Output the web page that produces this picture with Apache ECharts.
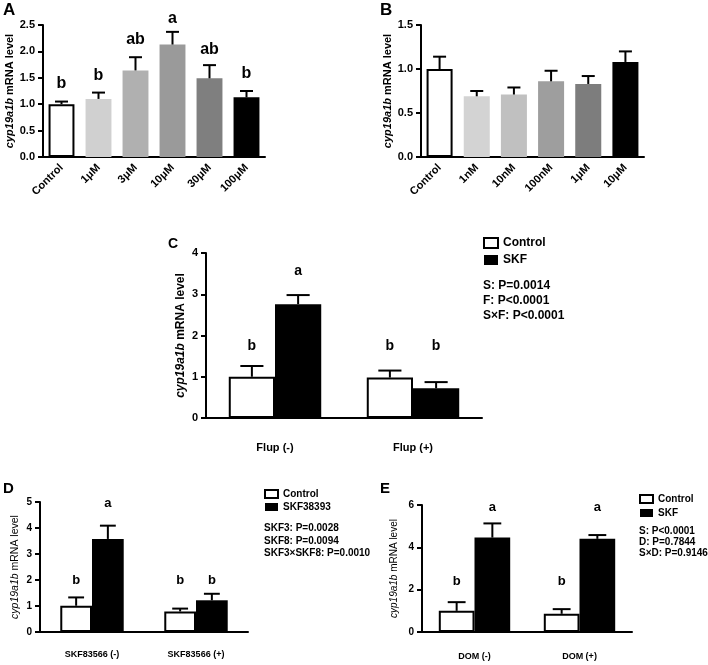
<!DOCTYPE html>
<html><head><meta charset="utf-8">
<script src="https://cdn.jsdelivr.net/npm/echarts@6/dist/echarts.min.js"></script>
<style>html,body{margin:0;padding:0;background:#fff}#c{width:708px;height:665px}</style>
</head><body><div id="c"></div>
<script>
// ---------- Panel A ----------
const catsA = ['Control','1μM','3μM','10μM','30μM','100μM'];
const valsA = [1.00,1.10,1.64,2.13,1.49,1.13];
const errA  = [0.05,0.12,0.25,0.24,0.25,0.12];
const lettersA = ['b','b','ab','a','ab','b'];
const letterPosA = [1.30,1.46,2.14,2.54,1.95,1.49];
const ticksA = [0,2.5,0.5];
// ---------- Panel B ----------
const catsB = ['Control','1nM','10nM','100nM','1μM','10μM'];
const valsB = [1.00,0.69,0.71,0.86,0.83,1.08];
const errB  = [0.14,0.06,0.08,0.12,0.09,0.12];
const ticksB = [0,1.5,0.5];
// ---------- Panel C ----------
const groupsC = ['Flup (-)','Flup (+)'];
const ctrlC = [1.00,0.98];  const ctrlErrC = [0.26,0.17];
const skfC  = [2.76,0.72];  const skfErrC  = [0.22,0.15];
const ctrlLettersC = ['b','b']; const skfLettersC = ['a','b'];
const ctrlLetterPosC = [1.65,1.65]; const skfLetterPosC = [3.47,1.65];
const ticksC = [0,4,1];
const legendC = ['Control','SKF'];
const statsC = ['S: P=0.0014','F: P<0.0001','S×F: P<0.0001'];
// ---------- Panel D ----------
const groupsD = ['SKF83566 (-)','SKF83566 (+)'];
const ctrlD = [1.01,0.79];  const ctrlErrD = [0.32,0.11];
const skfD  = [3.58,1.22];  const skfErrD  = [0.51,0.25];
const ctrlLettersD = ['b','b']; const skfLettersD = ['a','b'];
const ctrlLetterPosD = [1.85,1.85]; const skfLetterPosD = [4.79,1.85];
const ticksD = [0,5,1];
const legendD = ['Control','SKF38393'];
const statsD = ['SKF3: P=0.0028','SKF8: P=0.0094','SKF3×SKF8: P=0.0010'];
// ---------- Panel E ----------
const groupsE = ['DOM (-)','DOM (+)'];
const ctrlE = [1.00,0.86];  const ctrlErrE = [0.41,0.22];
const skfE  = [4.46,4.40];  const skfErrE  = [0.67,0.18];
const ctrlLettersE = ['b','b']; const skfLettersE = ['a','a'];
const ctrlLetterPosE = [2.23,2.23]; const skfLetterPosE = [5.71,5.71];
const ticksE = [0,6,2];
const legendE = ['Control','SKF'];
const statsE = ['S: P<0.0001','D: P=0.7844','S×D: P=0.9146'];
const yName = '{i|cyp19a1b} mRNA level';

const FF = '"Liberation Sans", Arial, sans-serif';
const colorsA = ['#ffffff','#d0d0d0','#b0b0b0','#9a9a9a','#7f7f7f','#000000'];
const colorsB = ['#ffffff','#d3d3d3','#c0c0c0','#9e9e9e','#7d7d7d','#000000'];

const chart = echarts.init(document.getElementById('c'), null, {renderer:'canvas'});

const grids = [
  {left:43, top:25, width:222, height:132},
  {left:421, top:25, width:223, height:132},
  {left:206, top:253, width:276, height:165},
  {left:40, top:502, width:208, height:130},
  {left:422, top:505, width:210, height:127}
];

function xAx(g, data, lab) {
  return {type:'category', gridIndex:g, data:data, boundaryGap:true,
    axisLine:{lineStyle:{color:'#000', width:2}},
    axisTick:{alignWithLabel:true, length:5, lineStyle:{color:'#000', width:2}},
    axisLabel:Object.assign({color:'#000', fontWeight:'bold', fontFamily:FF, interval:0}, lab)};
}
function yAx(g, t, fmt, fs, nameFs, nameW, gap) {
  return {type:'value', gridIndex:g, min:t[0], max:t[1], interval:t[2],
    axisLine:{show:true, lineStyle:{color:'#000', width:2}},
    axisTick:{show:true, length:5, lineStyle:{color:'#000', width:2}},
    splitLine:{show:false},
    axisLabel:{color:'#000', fontWeight:'bold', fontSize:fs, fontFamily:FF, margin:8, formatter:fmt},
    name:yName, nameLocation:'middle', nameGap:gap,
    nameTextStyle:{color:'#000', fontSize:nameFs, fontWeight:nameW, fontFamily:FF,
      rich:{i:{fontStyle:'italic', fontSize:nameFs, fontWeight:nameW, fontFamily:FF, color:'#000'}}}};
}

function errSeries(ax, vals, errs, letters, lpos, nSer, serIdx, gap, lsize) {
  return {type:'custom', xAxisIndex:ax, yAxisIndex:ax, z:5, silent:true,
    data: vals.map((v,i)=>[i, v, errs[i], lpos ? lpos[i] : 0]),
    renderItem: function(params, api) {
      const i = params.dataIndex;
      const band = api.size([1,0])[0];
      const bw = band*(1-gap)/nSer;
      const base = api.coord([api.value(0), api.value(1)]);
      const top = api.coord([api.value(0), api.value(1)+api.value(2)]);
      const cx = base[0] + (serIdx - nSer/2 + 0.5)*bw;
      const cw = bw*0.25;
      const ch = [
        {type:'line', shape:{x1:cx, y1:base[1], x2:cx, y2:top[1]}, style:{stroke:'#000', lineWidth:2}},
        {type:'line', shape:{x1:cx-cw, y1:top[1], x2:cx+cw, y2:top[1]}, style:{stroke:'#000', lineWidth:2}}
      ];
      if (letters) {
        const lp = api.coord([api.value(0), api.value(3)]);
        ch.push({type:'text', style:{text:letters[i], x:cx, y:lp[1]+lsize*0.22, align:'center', verticalAlign:'bottom',
          fill:'#000', font:'bold '+lsize+'px '+FF}});
      }
      return {type:'group', children:ch};
    }};
}

const ctrlStyle = {color:'#fff', borderColor:'#000', borderWidth:2};
const skfStyle = {color:'#000', borderColor:'#000', borderWidth:0};

const option = {
  animation:false,
  backgroundColor:'#fff',
  grid: grids,
  xAxis: [
    xAx(0, catsA, {rotate:45, fontSize:11, margin:9}),
    xAx(1, catsB, {rotate:45, fontSize:11, margin:9}),
    xAx(2, groupsC, {fontSize:11, margin:24}),
    xAx(3, groupsD, {fontSize:9, margin:18}),
    xAx(4, groupsE, {fontSize:9, margin:20})
  ],
  yAxis: [
    yAx(0, ticksA, v=>v.toFixed(1), 11, 11, 'bold', 28),
    yAx(1, ticksB, v=>v.toFixed(1), 11, 11, 'bold', 26),
    yAx(2, ticksC, v=>String(v), 11, 12, 'bold', 19),
    yAx(3, ticksD, v=>String(v), 10, 10.5, 'normal', 19),
    yAx(4, ticksE, v=>String(v), 10, 10, 'normal', 23)
  ],
  legend: [
    {left:483, top:237, orient:'vertical', icon:'rect', itemWidth:14, itemHeight:10, itemGap:5, padding:0,
     selectedMode:false, data:legendC, textStyle:{color:'#000', fontWeight:'bold', fontSize:12, fontFamily:FF}},
    {left:264, top:489, orient:'vertical', icon:'rect', itemWidth:13, itemHeight:8, itemGap:3, padding:0,
     selectedMode:false, data:legendD, textStyle:{color:'#000', fontWeight:'bold', fontSize:10, fontFamily:FF}},
    {left:639, top:494, orient:'vertical', icon:'rect', itemWidth:13, itemHeight:8, itemGap:4, padding:0,
     selectedMode:false, data:legendE, textStyle:{color:'#000', fontWeight:'bold', fontSize:10, fontFamily:FF}}
  ],
  graphic: [
    {type:'text', left:3, top:2, style:{text:'A', font:'bold 17px '+FF, fill:'#000'}},
    {type:'text', left:380, top:2, style:{text:'B', font:'bold 17px '+FF, fill:'#000'}},
    {type:'text', left:168, top:237, style:{text:'C', font:'bold 14px '+FF, fill:'#000'}},
    {type:'text', left:3, top:481, style:{text:'D', font:'bold 15px '+FF, fill:'#000'}},
    {type:'text', left:380, top:481, style:{text:'E', font:'bold 15px '+FF, fill:'#000'}},
    {type:'text', left:483, top:278, style:{text:statsC.join('\n'), font:'bold 12px '+FF, lineHeight:15, fill:'#000'}},
    {type:'text', left:264, top:522, style:{text:statsD.join('\n'), font:'bold 10px '+FF, lineHeight:12.5, fill:'#000'}},
    {type:'text', left:639, top:526, style:{text:statsE.join('\n'), font:'bold 10px '+FF, lineHeight:11, fill:'#000'}}
  ],
  series: [
    {type:'bar', name:'A', xAxisIndex:0, yAxisIndex:0, barCategoryGap:'30%',
     data: valsA.map((v,i)=>({value:v, itemStyle:{color:colorsA[i], borderColor:'#000', borderWidth:i===0?2:0}}))},
    errSeries(0, valsA, errA, lettersA, letterPosA, 1, 0, 0.30, 16),
    {type:'bar', name:'B', xAxisIndex:1, yAxisIndex:1, barCategoryGap:'30%',
     data: valsB.map((v,i)=>({value:v, itemStyle:{color:colorsB[i], borderColor:'#000', borderWidth:i===0?2:0}}))},
    errSeries(1, valsB, errB, null, null, 1, 0, 0.30, 16),
    {type:'bar', name:legendC[0], xAxisIndex:2, yAxisIndex:2, barGap:'0%', barCategoryGap:'33%', itemStyle:ctrlStyle, data:ctrlC},
    {type:'bar', name:legendC[1], xAxisIndex:2, yAxisIndex:2, barGap:'0%', barCategoryGap:'33%', itemStyle:skfStyle, data:skfC},
    errSeries(2, ctrlC, ctrlErrC, ctrlLettersC, ctrlLetterPosC, 2, 0, 0.33, 14),
    errSeries(2, skfC, skfErrC, skfLettersC, skfLetterPosC, 2, 1, 0.33, 14),
    {type:'bar', name:legendD[0], xAxisIndex:3, yAxisIndex:3, barGap:'0%', barCategoryGap:'39%', itemStyle:ctrlStyle, data:ctrlD},
    {type:'bar', name:legendD[1], xAxisIndex:3, yAxisIndex:3, barGap:'0%', barCategoryGap:'39%', itemStyle:skfStyle, data:skfD},
    errSeries(3, ctrlD, ctrlErrD, ctrlLettersD, ctrlLetterPosD, 2, 0, 0.39, 13),
    errSeries(3, skfD, skfErrD, skfLettersD, skfLetterPosD, 2, 1, 0.39, 13),
    {type:'bar', name:legendE[0], xAxisIndex:4, yAxisIndex:4, barGap:'0%', barCategoryGap:'32%', itemStyle:ctrlStyle, data:ctrlE},
    {type:'bar', name:legendE[1], xAxisIndex:4, yAxisIndex:4, barGap:'0%', barCategoryGap:'32%', itemStyle:skfStyle, data:skfE},
    errSeries(4, ctrlE, ctrlErrE, ctrlLettersE, ctrlLetterPosE, 2, 0, 0.32, 13),
    errSeries(4, skfE, skfErrE, skfLettersE, skfLetterPosE, 2, 1, 0.32, 13)
  ]
};
chart.setOption(option);
</script></body></html>
